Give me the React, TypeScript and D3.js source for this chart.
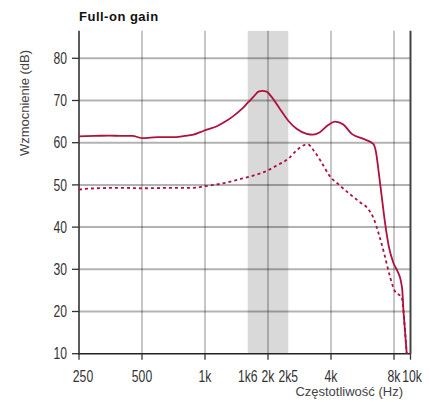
import * as d3 from "d3";

// Full-on gain (solid) curve
const solidFreq = [
  250, 300, 350, 400, 450, 500, 550, 600, 700, 800, 880, 950, 1020, 1140, 1250,
  1365, 1500, 1610, 1700, 1800, 1880, 1970, 2085, 2280, 2500, 2740, 3060, 3290,
  3540, 3880, 4180, 4580, 5025, 5710, 6370, 6560, 6800, 7000, 7250, 7550, 7950,
  8400, 8800, 8950, 9100, 9300, 9500,
];
const solidGain = [
  61.5, 61.6, 61.7, 61.6, 61.6, 61.1, 61.2, 61.3, 61.3, 61.6, 61.9, 62.5, 63.1,
  63.9, 65.0, 66.3, 68.0, 69.6, 70.8, 72.1, 72.3, 72.1, 70.8, 68.0, 65.2, 63.3,
  62.1, 61.9, 62.5, 64.2, 65.0, 64.3, 62.1, 60.9, 59.7, 57.8, 52.0, 47.0, 41.0,
  35.5, 31.5, 29.5, 27.0, 25.0, 20.0, 15.0, 10.0,
];

// Reference (dashed) curve
const dashFreq = [
  250, 300, 400, 500, 700, 880, 1000, 1200, 1450, 1700, 1970, 2200, 2500, 2740,
  3000, 3100, 3300, 3600, 3930, 4400, 4900, 5500, 6000, 6400, 6800, 7200, 7660,
  8100, 8880, 9100, 9300, 9500,
];
const dashGain = [
  48.9, 49.2, 49.3, 49.2, 49.3, 49.3, 49.7, 50.3, 51.3, 52.2, 53.3, 54.6, 56.2,
  58.2, 59.5, 59.6, 58.2, 55.4, 52.2, 49.9, 47.9, 45.9, 44.4, 42.0, 38.0, 33.5,
  28.2, 24.8, 23.3, 20.0, 15.0, 10.0,
];

const xTicks = [250, 500, 1000, 1600, 2000, 2500, 4000, 8000, 10000];
const xTickLabels = ["250", "500", "1k", "1k6", "2k", "2k5", "4k", "8k", "10k"];
const xTickMarks = [250, 500, 1000, 2000, 4000, 8000, 10000];
const xGrid = [500, 1000, 2000, 4000, 8000];
const yTicks = [10, 20, 30, 40, 50, 60, 70, 80];
const band = [1600, 2500];

const W = 430;
const H = 402;
const RED = "#b0103c";
const SANS = "'Liberation Sans', Arial, sans-serif";
const SQUEEZE = 0.76; // tick labels use a condensed face in the original

export default function App() {
  const x = d3
    .scaleLog()
    .domain([250, 8000, 10000])
    .range([79, 394, 410.5]);
  const y = d3.scaleLinear().domain([10, 80]).range([353.7, 58.3]);
  const top = y(86.5);
  const bottom = y(10);
  const left = x(250);
  const right = x(10000);

  const line = d3
    .line<[number, number]>()
    .x((d) => x(d[0]))
    .y((d) => y(d[1]))
    .curve(d3.curveMonotoneX);

  const solid = solidFreq.map((f, i) => [f, solidGain[i]] as [number, number]);
  const dashed = dashFreq.map((f, i) => [f, dashGain[i]] as [number, number]);

  return (
    <svg
      width={W}
      height={H}
      style={{ position: "absolute", left: 0, top: 0, background: "#fff" }}
    >
      <rect
        x={x(band[0])}
        y={top}
        width={x(band[1]) - x(band[0])}
        height={bottom - top}
        fill="#d9d9d9"
      />
      {yTicks
        .filter((t) => t > 10)
        .map((t) => (
          <line
            key={"hy" + t}
            x1={left}
            x2={right}
            y1={y(t)}
            y2={y(t)}
            stroke="#000"
            strokeOpacity={0.3}
            strokeWidth={2}
          />
        ))}
      {xGrid.map((t) => (
        <line
          key={"gx" + t}
          x1={x(t)}
          x2={x(t)}
          y1={top}
          y2={bottom}
          stroke="#000"
          strokeOpacity={0.3}
          strokeWidth={1.5}
        />
      ))}
      {/* right frame */}
      <line x1={right} x2={right} y1={top} y2={bottom} stroke="#444" strokeWidth={2} />
      {/* left axis */}
      <line x1={left} x2={left} y1={top} y2={bottom + 1} stroke="#333" strokeWidth={1.6} />
      {/* bottom axis */}
      <line x1={left} x2={right} y1={bottom} y2={bottom} stroke="#222" strokeWidth={1.6} />

      {yTicks.map((t) => (
        <g key={"yt" + t}>
          <line x1={left - 7} x2={left} y1={y(t)} y2={y(t)} stroke="#333" strokeWidth={1.3} />
          <text
            transform={`translate(${left - 12},${y(t)}) scale(${SQUEEZE},1)`}
            dy="0.36em"
            textAnchor="end"
            fontFamily={SANS}
            fontSize={16}
            fill="#333"
          >
            {t}
          </text>
        </g>
      ))}
      {xTickMarks.map((t) => (
        <line
          key={"xm" + t}
          x1={x(t)}
          x2={x(t)}
          y1={bottom}
          y2={bottom + 6}
          stroke="#333"
          strokeWidth={1.3}
        />
      ))}
      {xTicks.map((t, i) => (
        <text
          key={"xl" + t}
          transform={`translate(${x(t) + (t === 250 ? 4 : t === 10000 ? 1.5 : 0)},382) scale(${SQUEEZE},1)`}
          textAnchor="middle"
          fontFamily={SANS}
          fontSize={16}
          fill="#333"
        >
          {xTickLabels[i]}
        </text>
      ))}

      <path
        d={line(dashed) ?? ""}
        fill="none"
        stroke={RED}
        strokeWidth={1.8}
        strokeDasharray="3,3"
      />
      <path d={line(solid) ?? ""} fill="none" stroke={RED} strokeWidth={1.8} />

      <text
        x={79}
        y={21}
        fontFamily={SANS}
        fontWeight="bold"
        fontSize={13}
        letterSpacing={0.5}
        fill="#111"
      >
        Full-on gain
      </text>
      <text
        transform="translate(28.5,103) rotate(-90)"
        textAnchor="middle"
        fontFamily={SANS}
        fontSize={13}
        fill="#444"
      >
        Wzmocnienie (dB)
      </text>
      <text
        x={403}
        y={396}
        textAnchor="end"
        fontFamily={SANS}
        fontSize={13}
        fill="#444"
      >
        Częstotliwość (Hz)
      </text>
    </svg>
  );
}
